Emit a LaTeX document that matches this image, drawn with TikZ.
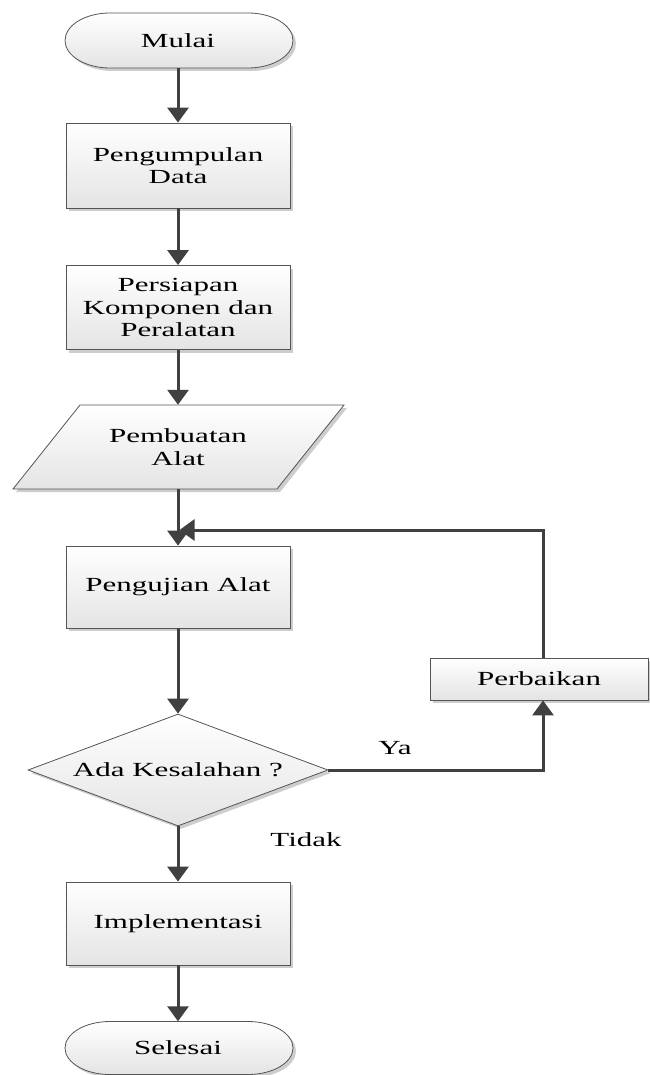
\documentclass[tikz,border=0pt]{standalone}
\usepackage{fontspec}
\setmainfont{Liberation Serif}[FakeStretch=1.55]
\usetikzlibrary{arrows.meta,shapes.geometric,shadows,calc}
\definecolor{linec}{RGB}{64,64,64}
\definecolor{bordc}{RGB}{85,85,85}
\definecolor{fillb}{RGB}{228,228,228}
\definecolor{shadc}{RGB}{205,205,205}
\begin{document}
\begin{tikzpicture}[x=1pt,y=1pt,
  shapebase/.style={draw=bordc, line width=0.8pt, top color=white, bottom color=fillb,
    drop shadow={shadow xshift=3pt, shadow yshift=-3pt, fill=shadc, opacity=1}},
  txt/.style={font=\fontsize{20}{22.5}\selectfont, align=center, inner sep=0pt},
  boxnode/.style={shapebase, rectangle, minimum width=224pt, txt},
  conn/.style={draw=linec, line width=3pt, -{Triangle[width=21pt,length=15pt]}},
  plainline/.style={draw=linec, line width=3pt}]
\useasboundingbox (0,0) rectangle (649,-1075);

% Mulai
\begin{scope}[shift={(179,-40.5)}]
\path[shapebase] (-69,27.5) -- (69,27.5) arc[start angle=90,end angle=-90,x radius=45,y radius=27.5]
  -- (-69,-27.5) arc[start angle=270,end angle=90,x radius=45,y radius=27.5] -- cycle;
\node[txt, minimum width=228pt, minimum height=55pt] (mulai) at (-1,0) {Mulai};
\end{scope}

\node[boxnode, minimum height=85pt] (kump) at (178,-165.5) {Pengumpulan\\Data};
\node[boxnode, minimum height=84pt] (siap) at (178,-307.5) {Persiapan\\Komponen dan\\Peralatan};

% Pembuatan Alat (parallelogram)
\path[shapebase] (13,-489) -- (277,-489) -- (344,-405) -- (80,-405) -- cycle;
\node[txt, minimum width=200pt, minimum height=84pt] (buat) at (178,-447) {Pembuatan\\Alat};

\node[boxnode, minimum height=82pt] (uji) at (178,-587) {Pengujian Alat};

\node[shapebase, diamond, aspect=2.68, minimum width=300pt, minimum height=112pt, txt] (cek) at (178,-770) {Ada Kesalahan ?};

\node[boxnode, minimum width=218pt, minimum height=42pt] (baik) at (539,-679) {Perbaikan};

\node[boxnode, minimum height=83pt] (impl) at (178,-923.5) {Implementasi};

% Selesai
\begin{scope}[shift={(179,-1048)}]
\path[shapebase] (-69,26.5) -- (69,26.5) arc[start angle=90,end angle=-90,x radius=45,y radius=26.5]
  -- (-69,-26.5) arc[start angle=270,end angle=90,x radius=45,y radius=26.5] -- cycle;
\node[txt, minimum width=228pt, minimum height=53pt] (selesai) at (-1,0) {Selesai};
\end{scope}

% labels
\node[txt] (ya) at (395,-748) {Ya};
\node[txt] (tidak) at (306,-840) {Tidak};

% connectors
\coordinate (j) at (178,-530);
\coordinate (bs) at ($(baik.south)+(4,0)$);
\coordinate (bn) at ($(baik.north)+(4,0)$);
\draw[conn] (mulai.south) -- (kump.north);
\draw[conn] (kump.south) -- (siap.north);
\draw[conn] (siap.south) -- (buat.north);
\draw[conn] (buat.south) -- (uji.north);
\draw[conn] (uji.south) -- (cek.north);
\draw[conn] (cek.east) -| (bs);
\draw[conn, shorten >=1.5pt] (bn) |- (j);
\draw[conn] (cek.south) -- (impl.north);
\draw[conn] (impl.south) -- (selesai.north);
\end{tikzpicture}
\end{document}
